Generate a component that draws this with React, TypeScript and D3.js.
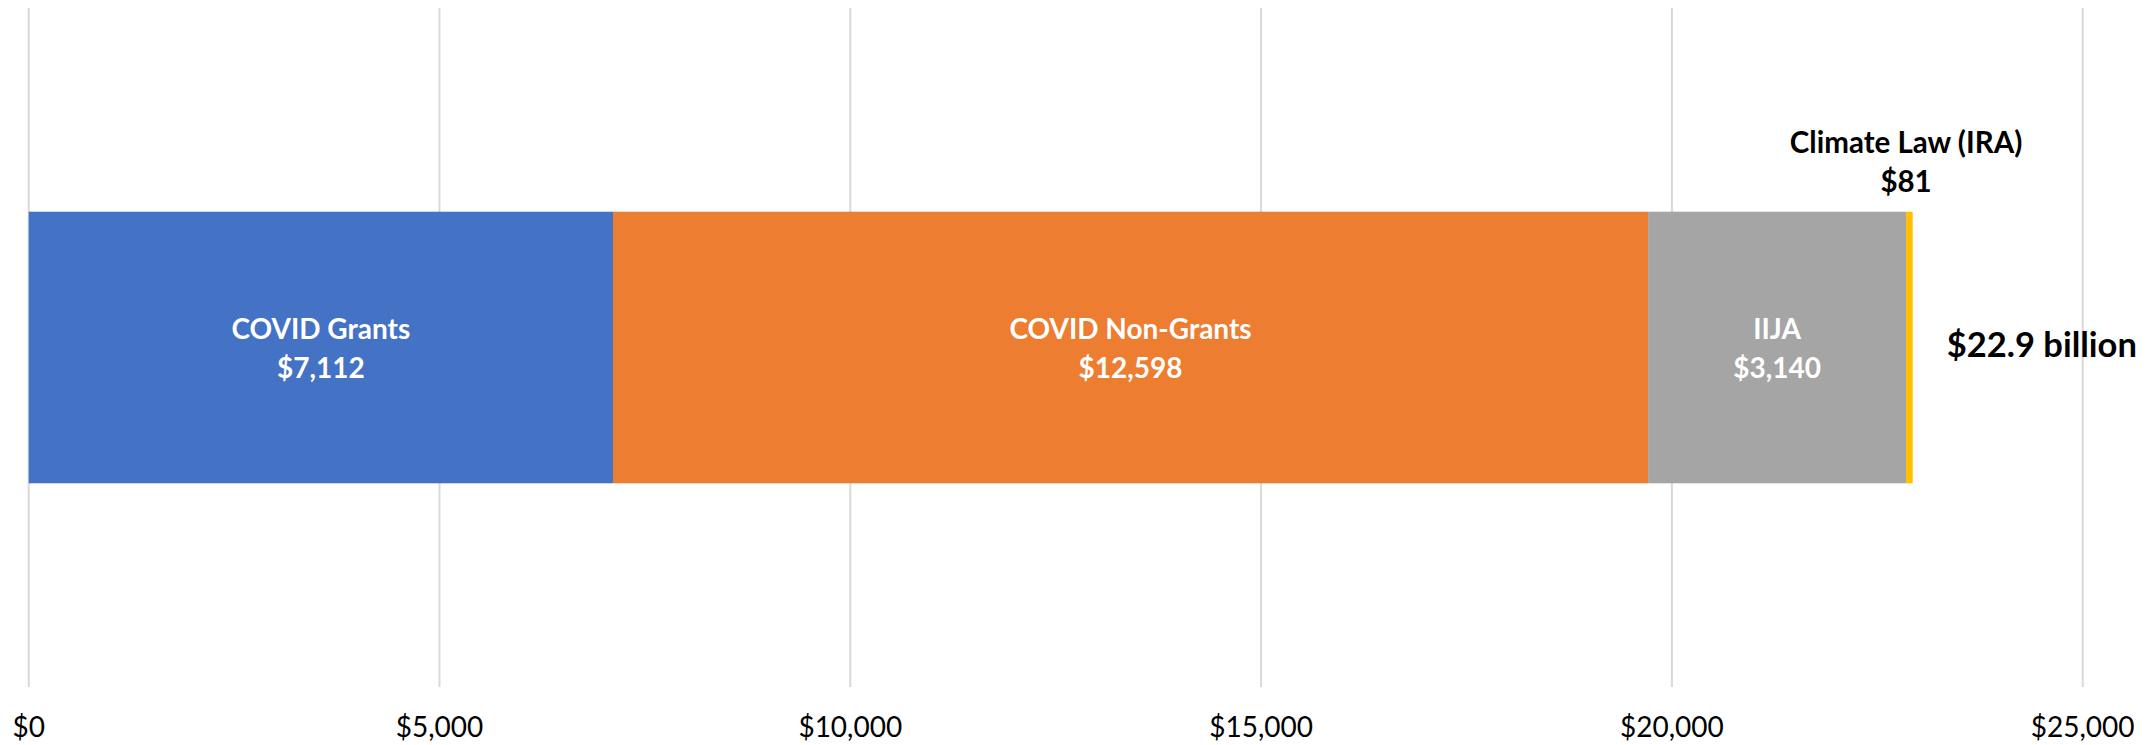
import * as d3 from 'd3';
import { useEffect, useRef } from 'react';

const categories = ['COVID Grants', 'COVID Non-Grants', 'IIJA', 'Climate Law (IRA)'];
const values = [7112, 12598, 3140, 81];
const colors = ['#4472C4', '#ED7D31', '#A5A5A5', '#FFC000'];
const tickValues = [0, 5000, 10000, 15000, 20000, 25000];
const totalLabel = '$22.9 billion';

const App = () => {
  const svgRef = useRef<SVGSVGElement>(null);

  useEffect(() => {
    if (!svgRef.current) return;

    const width = 2154;
    const height = 745;
    const font = 'Lato, "Open Sans", sans-serif';

    const x = d3.scaleLinear().domain([0, 25000]).range([28.7, 2082.7]);
    const y = d3.scaleBand<string>().domain(['Total']).range([8, 687]).paddingInner(0.6).paddingOuter(0.3);

    const svg = d3.select(svgRef.current).attr('width', width).attr('height', height);
    svg.selectAll('*').remove();

    // gridlines
    svg.selectAll('line.grid')
      .data(tickValues)
      .enter()
      .append('line')
      .attr('class', 'grid')
      .attr('x1', (d) => x(d))
      .attr('x2', (d) => x(d))
      .attr('y1', 8)
      .attr('y2', 687)
      .attr('stroke', '#d9d9d9')
      .attr('stroke-width', 2);

    // tick labels
    const fmt = d3.format('$,');
    svg.selectAll('text.tick')
      .data(tickValues)
      .enter()
      .append('text')
      .attr('class', 'tick')
      .attr('x', (d) => x(d))
      .attr('y', 737)
      .attr('text-anchor', 'middle')
      .attr('font-family', font)
      .attr('font-size', 28)
      .attr('fill', '#000')
      .text((d) => fmt(d));

    // stacked segments
    const starts = values.map((_, i) => d3.sum(values.slice(0, i)));
    const segs = categories.map((c, i) => ({ c, v: values[i], s: starts[i], color: colors[i] }));
    const y0 = y('Total') ?? 0;
    const bh = y.bandwidth();
    const cy = y0 + bh / 2;

    svg.selectAll('rect.seg')
      .data(segs)
      .enter()
      .append('rect')
      .attr('class', 'seg')
      .attr('x', (d) => x(d.s))
      .attr('y', y0)
      .attr('width', (d) => x(d.s + d.v) - x(d.s))
      .attr('height', bh)
      .attr('fill', (d) => d.color);

    // labels inside (first three) and above the small last one
    segs.forEach((d, i) => {
      const inside = i < segs.length - 1;
      const cx = inside ? (x(d.s) + x(d.s + d.v)) / 2 : x(d.s);
      const b1 = inside ? cy - 9 : y0 - 59;
      const t = svg.append('text')
        .attr('text-anchor', 'middle')
        .attr('font-family', font)
        .attr('font-weight', 'bold')
        .attr('font-size', inside ? 28 : 29.5)
        .attr('fill', inside ? '#fff' : '#000');
      t.append('tspan').attr('x', cx).attr('y', b1).text(d.c);
      t.append('tspan').attr('x', cx).attr('y', b1 + 39).text(fmt(d.v));
    });

    // total label
    const total = d3.sum(values);
    svg.append('text')
      .attr('x', x(total) + 34)
      .attr('y', cy + 9)
      .attr('font-family', font)
      .attr('font-weight', 'bold')
      .attr('font-size', 34.5)
      .attr('fill', '#000')
      .text(totalLabel);
  }, []);

  return <svg ref={svgRef} style={{ position: 'fixed', left: 0, top: 0, background: '#fff' }} />;
};

export default App;
